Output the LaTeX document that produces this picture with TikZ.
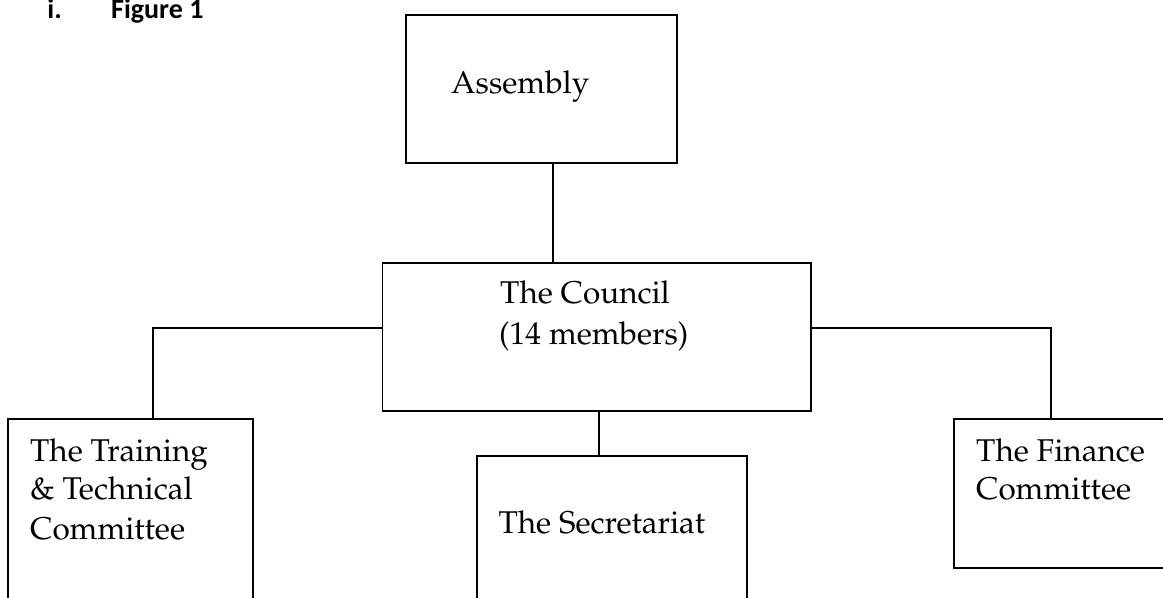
\documentclass[tikz,border=0pt]{standalone}
\usepackage[T1]{fontenc}
\usepackage{fontspec}
\newfontfamily\figfont{Carlito}
\newcommand\palfont{\fontencoding{T1}\fontfamily{ppl}\fontsize{31.6pt}{38.5pt}\selectfont}
\begin{document}
\begin{tikzpicture}[x=1bp,y=-1bp,
  box/.style={draw,line width=1.8bp,rectangle,inner sep=0pt,outer sep=0pt},
  lbl/.style={anchor=base west,inner sep=0pt,font=\palfont},
  head/.style={anchor=base west,inner sep=0pt,font=\figfont\bfseries\fontsize{28.1pt}{34pt}\selectfont},
  link/.style={line width=1.8bp}]
\path[use as bounding box,clip] (0,0) rectangle (1163,598);
% heading
\node[head] (num) at (47.3,19) {i.};
\node[head] (fig) at (111,19) {Figure 1};
% boxes
\node[box,minimum width=271bp,minimum height=148bp] (asm) at (541.5,89) {};
\node[box,minimum width=428.2bp,minimum height=148.3bp] (council) at (596.6,336.85) {};
\node[box,minimum width=245bp,minimum height=200.7bp] (training) at (130.8,519.65) {};
\node[box,minimum width=270.3bp,minimum height=164.3bp] (secr) at (611.85,537.85) {};
\node[box,minimum width=226bp,minimum height=148.7bp] (finance) at (1067,493.35) {};
% texts
\node[lbl] (tasm) at (451,93.3) {Assembly};
\node[lbl] (tc1) at (500,304) {The Council};
\node[lbl] (tc2) at (499,344.5) {(14 members)};
\node[lbl] (tt1) at (30,461) {The Training};
\node[lbl] (tt2) at (30,499.3) {\& Technical};
\node[lbl] (tt3) at (30,539.3) {Committee};
\node[lbl] (ts) at (498.3,533.3) {The Secretariat};
\node[lbl] (tf1) at (976,461) {The Finance};
\node[lbl] (tf2) at (976,499.3) {Committee};
% connectors
\coordinate (c1) at (553,0);
\coordinate (lj) at (152.7,328);
\coordinate (rj) at (1050.7,328);
\coordinate (bj) at (598.7,0);
\draw[link] (asm.south -| c1) -- (council.north -| c1);
\draw[link] (council.west |- lj) -| (training.north -| lj);
\draw[link] (council.east |- rj) -| (finance.north -| rj);
\draw[link] (council.south -| bj) -- (secr.north -| bj);
\end{tikzpicture}
\end{document}
